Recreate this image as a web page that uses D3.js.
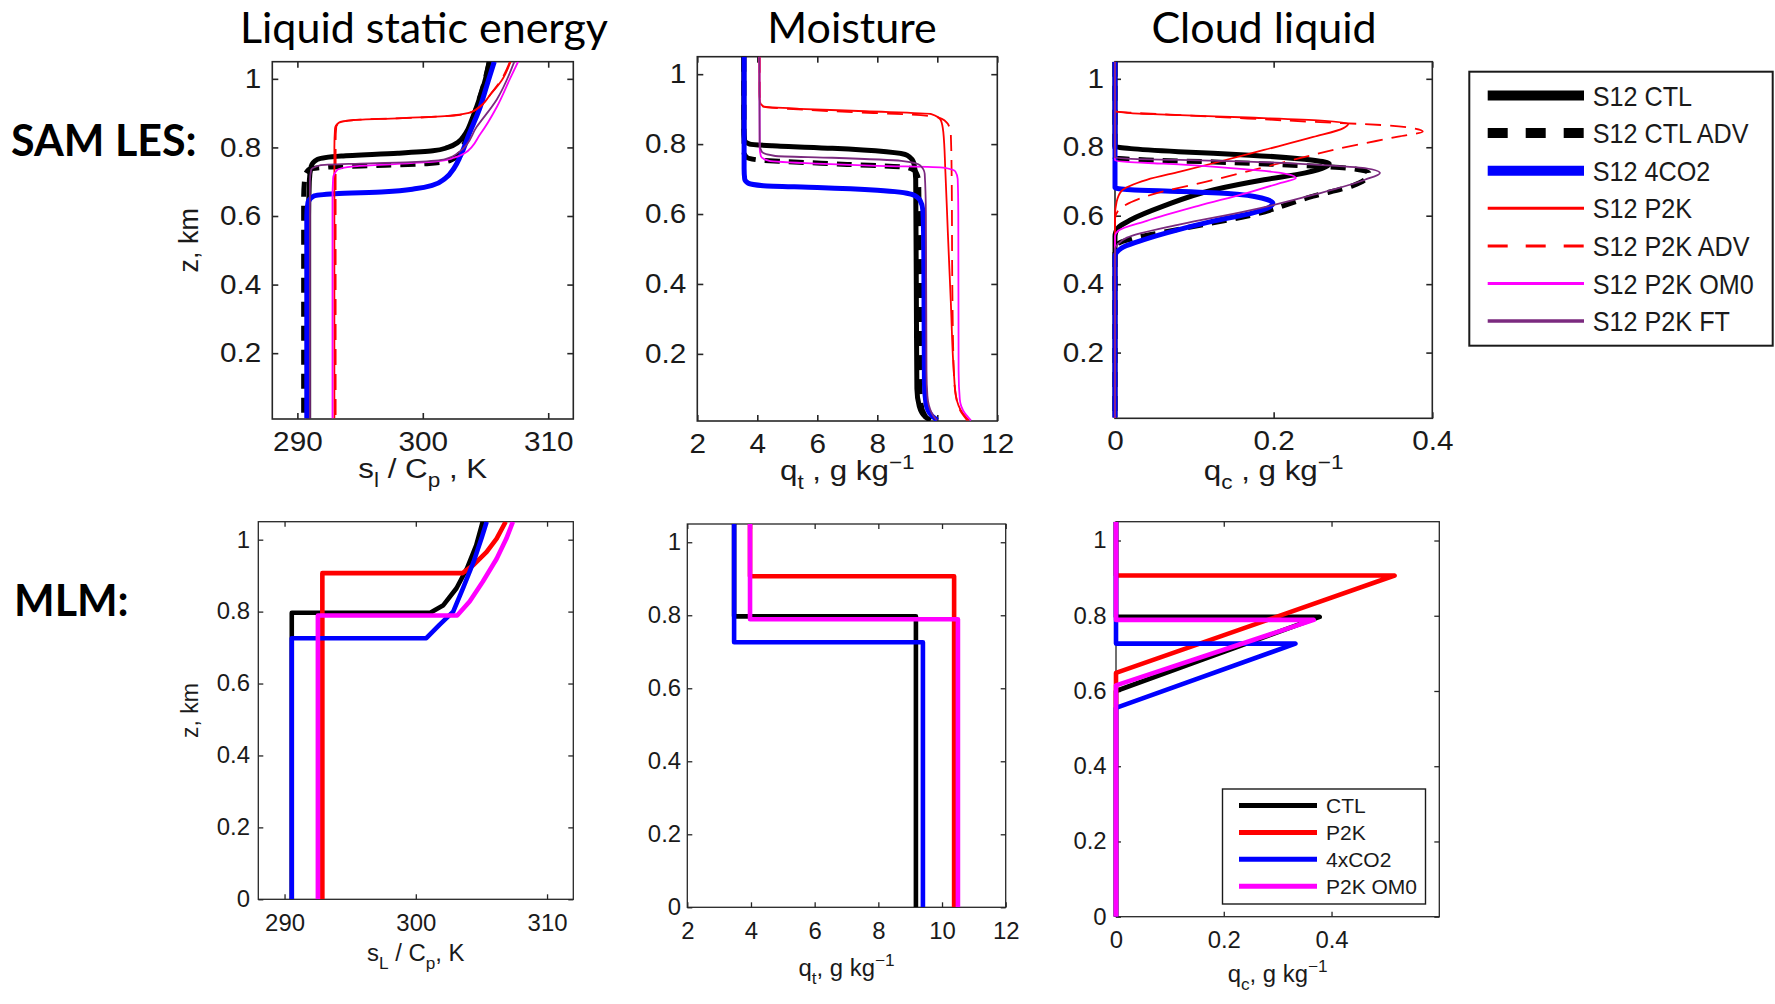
<!DOCTYPE html>
<html>
<head>
<meta charset="utf-8">
<script src="https://cdn.jsdelivr.net/npm/d3@7"></script>
<style>
  html, body { margin: 0; padding: 0; background: #fff; }
  svg { display: block; }
</style>
</head>
<body>
<svg id="fig" width="1775" height="1004"></svg>
<script>
// ---------------- labels and ticks ----------------
const panelTitles = ["Liquid static energy", "Moisture", "Cloud liquid"];
const rowLabels = ["SAM LES:", "MLM:"];
const lesNames = ["S12 CTL", "S12 CTL ADV", "S12 4CO2", "S12 P2K", "S12 P2K ADV", "S12 P2K OM0", "S12 P2K FT"];
const mlmNames = ["CTL", "P2K", "4xCO2", "P2K OM0"];
const slTicks = [290, 300, 310];
const qtTicks = [2, 4, 6, 8, 10, 12];
const qcTicks = [0, 0.2, 0.4];
const lesZTicks = [0.2, 0.4, 0.6, 0.8, 1];
const mlmZTicks = [0, 0.2, 0.4, 0.6, 0.8, 1];

// ---------------- SAM LES profiles: [value, z km] ----------------
// liquid static energy s_l / Cp (K)
const lesSlCtl = [[290.9,0.01],[290.9,0.60],[290.95,0.70],[291.1,0.745],[291.6,0.765],[293.5,0.775],[298,0.783],[300.8,0.79],[302.0,0.80],[302.8,0.815],[303.4,0.84],[303.9,0.88],[304.5,0.94],[305.0,1.0],[305.3,1.05]];
const lesSlCtlAdv = [[290.5,0.01],[290.5,0.65],[290.6,0.715],[290.9,0.735],[292.5,0.743],[297,0.748],[300.5,0.753],[302.2,0.762],[302.9,0.78],[303.3,0.81],[303.8,0.86],[304.4,0.93],[304.9,0.99],[305.3,1.05]];
const lesSl4co2 = [[290.75,0.01],[290.75,0.60],[290.85,0.64],[291.3,0.658],[293,0.665],[297,0.671],[299.5,0.68],[300.8,0.69],[301.8,0.71],[302.5,0.74],[303.0,0.775],[303.7,0.84],[304.5,0.91],[305.1,0.98],[305.7,1.05]];
const lesSlP2k = [[292.95,0.01],[292.95,0.80],[293.0,0.855],[293.3,0.872],[294.5,0.880],[298,0.885],[302,0.892],[303.6,0.90],[304.4,0.915],[305.4,0.955],[306.3,0.996],[307.0,1.05]];
const lesSlP2kAdv = [[293.05,0.01],[293.05,0.82],[293.1,0.86],[293.5,0.874],[295,0.881],[299,0.886],[302.5,0.893],[303.8,0.902],[304.6,0.92],[305.5,0.96],[306.3,1.0],[306.95,1.05]];
const lesSlOm0 = [[292.8,0.01],[292.8,0.65],[292.85,0.71],[293.2,0.735],[294.5,0.745],[298,0.752],[301.3,0.76],[302.5,0.77],[303.3,0.782],[304.6,0.84],[305.9,0.918],[306.9,0.996],[307.6,1.05]];
const lesSlFt = [[291.0,0.01],[291.0,0.70],[291.1,0.735],[291.8,0.748],[295,0.753],[299.5,0.758],[301.8,0.766],[303.0,0.79],[304.3,0.86],[305.9,0.94],[307.3,1.05]];

// total water q_t (g/kg)
const lesQtCtl = [[9.78,0.01],[9.6,0.02],[9.4,0.05],[9.32,0.10],[9.3,0.40],[9.28,0.70],[9.22,0.745],[9.0,0.768],[8.3,0.778],[6.5,0.788],[4.5,0.795],[3.75,0.80],[3.58,0.81],[3.55,0.84],[3.55,1.05]];
const lesQtCtlAdv = [[9.72,0.01],[9.58,0.025],[9.45,0.06],[9.42,0.12],[9.4,0.5],[9.38,0.69],[9.3,0.718],[9.0,0.733],[7,0.742],[5,0.75],[4.0,0.755],[3.65,0.762],[3.56,0.775],[3.55,1.05]];
const lesQt4co2 = [[10.0,0.01],[9.8,0.025],[9.62,0.06],[9.57,0.12],[9.55,0.5],[9.52,0.61],[9.42,0.64],[9.15,0.656],[8,0.668],[6,0.676],[4.2,0.681],[3.7,0.688],[3.58,0.70],[3.56,0.73],[3.56,1.05]];
const lesQtP2k = [[11.05,0.01],[10.85,0.03],[10.62,0.08],[10.55,0.15],[10.45,0.35],[10.35,0.55],[10.27,0.72],[10.2,0.835],[10.12,0.868],[9.8,0.886],[7.6,0.894],[5.4,0.901],[4.2,0.908],[4.09,0.92],[4.07,0.95],[4.07,1.05]];
const lesQtP2kAdv = [[11.0,0.01],[10.82,0.03],[10.62,0.08],[10.55,0.15],[10.5,0.4],[10.48,0.7],[10.45,0.83],[10.35,0.858],[10.05,0.876],[9,0.885],[7,0.892],[5.2,0.9],[4.2,0.907],[4.1,0.918],[4.08,0.95],[4.08,1.05]];
const lesQtOm0 = [[11.12,0.01],[10.92,0.03],[10.75,0.07],[10.71,0.15],[10.7,0.6],[10.68,0.7],[10.6,0.722],[10.2,0.733],[8,0.738],[6,0.744],[4.4,0.752],[4.12,0.765],[4.08,0.79],[4.07,1.05]];
const lesQtFt = [[9.98,0.01],[9.82,0.03],[9.67,0.08],[9.64,0.15],[9.62,0.6],[9.58,0.715],[9.42,0.74],[8.8,0.752],[6.5,0.761],[4.6,0.766],[4.15,0.778],[4.08,0.8],[4.07,1.05]];

// cloud liquid q_c (g/kg)
const lesQcCtl = [[0,0.01],[0,0.54],[0.004,0.565],[0.02,0.588],[0.06,0.627],[0.125,0.676],[0.188,0.705],[0.24,0.725],[0.265,0.742],[0.27,0.752],[0.25,0.762],[0.17,0.777],[0.08,0.787],[0.02,0.796],[0,0.803],[0,1.05]];
const lesQcCtlAdv = [[0,0.01],[0,0.50],[0.005,0.52],[0.02,0.532],[0.08,0.56],[0.167,0.599],[0.25,0.657],[0.3,0.688],[0.318,0.712],[0.32,0.725],[0.294,0.739],[0.21,0.749],[0.125,0.757],[0.04,0.763],[0,0.769],[0,1.05]];
const lesQc4co2 = [[0,0.01],[0,0.48],[0.008,0.505],[0.03,0.525],[0.065,0.55],[0.125,0.585],[0.175,0.609],[0.196,0.627],[0.199,0.637],[0.186,0.651],[0.146,0.664],[0.08,0.671],[0.02,0.676],[0,0.682],[0,1.05]];
const lesQcP2k = [[0,0.01],[0,0.60],[0.002,0.64],[0.008,0.672],[0.04,0.705],[0.082,0.729],[0.125,0.754],[0.188,0.792],[0.25,0.83],[0.288,0.856],[0.294,0.868],[0.26,0.878],[0.167,0.887],[0.082,0.894],[0.02,0.900],[0,0.907],[0,1.05]];
const lesQcP2kAdv = [[0,0.01],[0,0.59],[0.004,0.615],[0.011,0.628],[0.04,0.657],[0.125,0.705],[0.209,0.754],[0.294,0.802],[0.357,0.831],[0.388,0.846],[0.375,0.856],[0.336,0.865],[0.252,0.874],[0.167,0.884],[0.082,0.894],[0.02,0.901],[0,0.905],[0,1.05]];
const lesQcOm0 = [[0,0.01],[0,0.54],[0.004,0.556],[0.04,0.585],[0.104,0.628],[0.167,0.667],[0.209,0.696],[0.228,0.71],[0.209,0.725],[0.146,0.739],[0.061,0.752],[0.015,0.757],[0,0.762],[0,1.05]];
const lesQcFt = [[0,0.01],[0,0.50],[0.005,0.52],[0.015,0.536],[0.082,0.575],[0.167,0.614],[0.252,0.662],[0.315,0.705],[0.334,0.725],[0.315,0.739],[0.252,0.749],[0.167,0.758],[0.082,0.763],[0.02,0.766],[0,0.77],[0,1.05]];

// ---------------- mixed-layer model profiles: [value, z km] ----------------
const mlmSlCtl = [[290.55,0],[290.55,0.797],[301.1,0.797],[302.1,0.818],[303.1,0.865],[303.9,0.92],[304.6,0.984],[305.1,1.05]];
const mlmSlP2k = [[292.88,0],[292.88,0.907],[303.56,0.907],[304.38,0.929],[305.4,0.966],[306.16,1.003],[306.85,1.05]];
const mlmSl4co2 = [[290.55,0],[290.55,0.726],[300.8,0.726],[301.8,0.763],[302.85,0.8],[303.6,0.865],[304.4,0.938],[305.0,1.003],[305.4,1.05]];
const mlmSlOm0 = [[292.54,0],[292.54,0.789],[303.15,0.789],[304.1,0.828],[305.1,0.883],[306.16,0.947],[306.9,1.003],[307.4,1.05]];

const mlmQtCtl = [[3.47,1.05],[3.47,0.797],[9.18,0.797],[9.18,0]];
const mlmQtP2k = [[3.97,1.05],[3.97,0.907],[10.38,0.907],[10.38,0]];
const mlmQt4co2 = [[3.47,1.05],[3.47,0.726],[9.4,0.726],[9.4,0]];
const mlmQtOm0 = [[3.97,1.05],[3.97,0.789],[10.5,0.789],[10.5,0]];

const mlmQcCtl = [[0,0],[0,0.6],[0.378,0.797],[0,0.797],[0,1.05]];
const mlmQcP2k = [[0,0],[0,0.648],[0.517,0.907],[0,0.907],[0,1.05]];
const mlmQc4co2 = [[0,0],[0,0.555],[0.333,0.726],[0,0.726],[0,1.05]];
const mlmQcOm0 = [[0,0],[0,0.615],[0.367,0.789],[0,0.789],[0,1.05]];

// ---------------- styles ----------------
const lesStyles = [
  { color: "#000000", w: 5 },
  { color: "#000000", w: 5, dash: "15,9" },
  { color: "#0000ff", w: 5 },
  { color: "#ff0000", w: 1.8 },
  { color: "#ff0000", w: 1.8, dash: "16,9" },
  { color: "#ff00ff", w: 1.8 },
  { color: "#7b2a7f", w: 1.8 }
];
const lesLegendStyles = [
  { color: "#000000", w: 10 },
  { color: "#000000", w: 10, dash: "20,18" },
  { color: "#0000ff", w: 10 },
  { color: "#ff0000", w: 3 },
  { color: "#ff0000", w: 3, dash: "20,18" },
  { color: "#ff00ff", w: 3 },
  { color: "#7b2a7f", w: 3.5 }
];
const mlmStyles = [
  { color: "#000000", w: 4.6 },
  { color: "#ff0000", w: 4.6 },
  { color: "#0000ff", w: 4.6 },
  { color: "#ff00ff", w: 4.6 }
];

const AX_FONT = "'Liberation Sans', Arial, Helvetica, sans-serif";
const TITLE_FONT = "Lato, 'Open Sans', sans-serif";
const svg = d3.select("#fig");

function richText(sel, parts, fs) {
  let shift = 0;
  parts.forEach(p => {
    const target = p.sub ? fs * 0.33 : (p.sup ? -fs * 0.42 : 0);
    sel.append("tspan")
      .attr("dy", target - shift)
      .attr("font-size", (p.sub || p.sup) ? fs * 0.72 : fs)
      .text(p.t);
    shift = target;
  });
}

let clipCount = 0;
function drawPanel(cfg) {
  const b = cfg.box;
  const x = d3.scaleLinear().domain(cfg.xDomain).range([b.x0, b.x1]);
  const y = d3.scaleLinear().domain(cfg.zDomain).range([b.y1, b.y0]);
  const g = svg.append("g");
  const fmt = d => String(d);

  // axes box and inward ticks on all four sides
  g.append("rect")
    .attr("x", b.x0).attr("y", b.y0)
    .attr("width", b.x1 - b.x0).attr("height", b.y1 - b.y0)
    .attr("fill", "#fff").attr("stroke", "#262626").attr("stroke-width", cfg.boxW);

  const axes = [
    { gen: d3.axisBottom(x).tickValues(cfg.xTicks).tickFormat(fmt).tickPadding(cfg.padX), t: `translate(0,${b.y1})` },
    { gen: d3.axisTop(x).tickValues(cfg.xTicks).tickFormat(""), t: `translate(0,${b.y0})` },
    { gen: d3.axisLeft(y).tickValues(cfg.zTicks).tickFormat(fmt).tickPadding(cfg.padY), t: `translate(${b.x0},0)` },
    { gen: d3.axisRight(y).tickValues(cfg.zTicks).tickFormat(""), t: `translate(${b.x1},0)` }
  ];
  axes.forEach(a => {
    const ag = g.append("g").attr("transform", a.t).call(a.gen.tickSize(-cfg.tickLen));
    ag.select(".domain").remove();
    ag.selectAll(".tick line").attr("stroke", "#262626").attr("stroke-width", cfg.boxW);
    ag.selectAll(".tick text")
      .attr("fill", "#1a1a1a")
      .attr("font-family", AX_FONT)
      .attr("font-size", cfg.fs)
      .attr("transform", `scale(${cfg.stretch},1)`);
  });

  // profiles
  const id = "clip" + (clipCount++);
  svg.append("clipPath").attr("id", id).append("rect")
    .attr("x", b.x0 - 4).attr("y", b.y0)
    .attr("width", b.x1 - b.x0 + 8).attr("height", b.y1 - b.y0);
  const plot = g.append("g").attr("clip-path", `url(#${id})`);
  const line = d3.line().x(d => x(d[0])).y(d => y(d[1])).curve(cfg.curve);
  cfg.series.forEach((s, i) => {
    const st = cfg.styles[i];
    const pts = cfg.sortZ ? s.slice().sort((p, q) => q[1] - p[1]) : s;
    plot.append("path").datum(pts)
      .attr("d", line)
      .attr("fill", "none")
      .attr("stroke", st.color)
      .attr("stroke-width", st.w)
      .attr("stroke-dasharray", st.dash || null)
      .attr("stroke-linejoin", "round");
  });

  // x-axis title
  const xt = g.append("g").attr("transform", `translate(${(b.x0 + b.x1) / 2},${cfg.xLabelY}) scale(${cfg.labelStretch},1)`)
    .append("text")
    .attr("text-anchor", "middle")
    .attr("font-family", AX_FONT)
    .attr("font-size", cfg.fs)
    .attr("fill", "#1a1a1a");
  richText(xt, cfg.xLabel, cfg.fs);

  // z-axis title
  if (cfg.zLabel) {
    g.append("text")
      .attr("transform", `translate(${cfg.zLabelX},${(b.y0 + b.y1) / 2}) rotate(-90)`)
      .attr("text-anchor", "middle")
      .attr("dy", "0.3em")
      .attr("font-family", AX_FONT)
      .attr("font-size", cfg.fs)
      .attr("fill", "#1a1a1a")
      .text(cfg.zLabel);
  }
}

const lesBoxes = [
  { x0: 272.3, x1: 573.3, y0: 61.7, y1: 419 },
  { x0: 697.3, x1: 997.3, y0: 56.7, y1: 421 },
  { x0: 1115, x1: 1432.3, y0: 61.7, y1: 418.3 }
];
const mlmBoxes = [
  { x0: 258.3, x1: 573.3, y0: 521.7, y1: 899.3 },
  { x0: 687.3, x1: 1005.7, y0: 524, y1: 907.3 },
  { x0: 1116, x1: 1439.3, y0: 521.7, y1: 916.7 }
];

const lesCommon = { zDomain: [0.008, 1.05], zTicks: lesZTicks, styles: lesStyles, curve: d3.curveMonotoneY, sortZ: true,
  fs: 27, tickLen: 6, padX: 13, padY: 10, stretch: 1.1, labelStretch: 1.16, boxW: 1.6 };
const mlmCommon = { zDomain: [0, 1.05], zTicks: mlmZTicks, styles: mlmStyles, curve: d3.curveLinear, sortZ: false,
  fs: 23, tickLen: 5, padX: 15, boxW: 1.3, stretch: 1.04, labelStretch: 1.04 };

drawPanel(Object.assign({}, lesCommon, {
  box: lesBoxes[0], xDomain: [288, 312], xTicks: slTicks,
  series: [lesSlCtl, lesSlCtlAdv, lesSl4co2, lesSlP2k, lesSlP2kAdv, lesSlOm0, lesSlFt],
  xLabel: [{ t: "s" }, { t: "l", sub: true }, { t: " / C" }, { t: "p", sub: true }, { t: " , K" }],
  xLabelY: 478, zLabel: "z, km", zLabelX: 190
}));
drawPanel(Object.assign({}, lesCommon, {
  box: lesBoxes[1], xDomain: [2, 12], xTicks: qtTicks,
  series: [lesQtCtl, lesQtCtlAdv, lesQt4co2, lesQtP2k, lesQtP2kAdv, lesQtOm0, lesQtFt],
  xLabel: [{ t: "q" }, { t: "t", sub: true }, { t: " , g kg" }, { t: "\u22121", sup: true }],
  xLabelY: 480
}));
drawPanel(Object.assign({}, lesCommon, {
  box: lesBoxes[2], xDomain: [0, 0.4], xTicks: qcTicks,
  series: [lesQcCtl, lesQcCtlAdv, lesQc4co2, lesQcP2k, lesQcP2kAdv, lesQcOm0, lesQcFt],
  xLabel: [{ t: "q" }, { t: "c", sub: true }, { t: " , g kg" }, { t: "\u22121", sup: true }],
  xLabelY: 480
}));

drawPanel(Object.assign({}, mlmCommon, {
  box: mlmBoxes[0], xDomain: [288, 312], xTicks: slTicks, padY: 8,
  series: [mlmSlCtl, mlmSlP2k, mlmSl4co2, mlmSlOm0],
  xLabel: [{ t: "s" }, { t: "L", sub: true }, { t: " / C" }, { t: "p", sub: true }, { t: ", K" }],
  xLabelY: 961, zLabel: "z, km", zLabelX: 191
}));
drawPanel(Object.assign({}, mlmCommon, {
  box: mlmBoxes[1], xDomain: [2, 12], xTicks: qtTicks, padY: 6,
  series: [mlmQtCtl, mlmQtP2k, mlmQt4co2, mlmQtOm0],
  xLabel: [{ t: "q" }, { t: "t", sub: true }, { t: ", g kg" }, { t: "\u22121", sup: true }],
  xLabelY: 976
}));
drawPanel(Object.assign({}, mlmCommon, {
  box: mlmBoxes[2], xDomain: [0, 0.6], xTicks: qcTicks, padY: 9,
  series: [mlmQcCtl, mlmQcP2k, mlmQc4co2, mlmQcOm0],
  xLabel: [{ t: "q" }, { t: "c", sub: true }, { t: ", g kg" }, { t: "\u22121", sup: true }],
  xLabelY: 982
}));

// ---------------- LES legend ----------------
const lesLeg = svg.append("g");
lesLeg.append("rect").attr("x", 1469.3).attr("y", 71.7).attr("width", 303.4).attr("height", 274)
  .attr("fill", "#fff").attr("stroke", "#1a1a1a").attr("stroke-width", 2);
const lesLegY = d3.scalePoint().domain(lesNames).range([95.5, 321.1]);
lesNames.forEach((name, i) => {
  const st = lesLegendStyles[i];
  const yy = lesLegY(name);
  lesLeg.append("line").attr("x1", 1487.7).attr("x2", 1584).attr("y1", yy).attr("y2", yy)
    .attr("stroke", st.color).attr("stroke-width", st.w).attr("stroke-dasharray", st.dash || null);
  lesLeg.append("g").attr("transform", `translate(1592.7,${yy}) scale(0.9,1)`)
    .append("text").attr("dy", "0.36em")
    .attr("font-family", AX_FONT).attr("font-size", 28).attr("fill", "#1a1a1a")
    .text(name);
});

// ---------------- MLM legend ----------------
const mlmLeg = svg.append("g");
mlmLeg.append("rect").attr("x", 1222.5).attr("y", 789).attr("width", 203).attr("height", 115)
  .attr("fill", "#fff").attr("stroke", "#1a1a1a").attr("stroke-width", 1.4);
const mlmLegY = d3.scalePoint().domain(mlmNames).range([805.5, 886.2]);
mlmNames.forEach((name, i) => {
  const st = mlmStyles[i];
  const yy = mlmLegY(name);
  mlmLeg.append("line").attr("x1", 1239).attr("x2", 1317).attr("y1", yy).attr("y2", yy)
    .attr("stroke", st.color).attr("stroke-width", 5);
  mlmLeg.append("text").attr("x", 1326).attr("y", yy).attr("dy", "0.36em")
    .attr("font-family", AX_FONT).attr("font-size", 21).attr("fill", "#1a1a1a")
    .text(name);
});

// ---------------- column titles and row labels ----------------
const titleX = [424, 852, 1264];
panelTitles.forEach((t, i) => {
  svg.append("text").attr("x", titleX[i]).attr("y", 43)
    .attr("text-anchor", "middle")
    .attr("font-family", TITLE_FONT).attr("font-size", 43).attr("fill", "#000")
    .text(t);
});
const rowY = [156, 616];
rowLabels.forEach((t, i) => {
  svg.append("text").attr("x", i === 0 ? 11 : 14).attr("y", rowY[i])
    .attr("font-family", TITLE_FONT).attr("font-weight", 700).attr("font-size", 43).attr("fill", "#000")
    .text(t);
});
</script>
</body>
</html>
